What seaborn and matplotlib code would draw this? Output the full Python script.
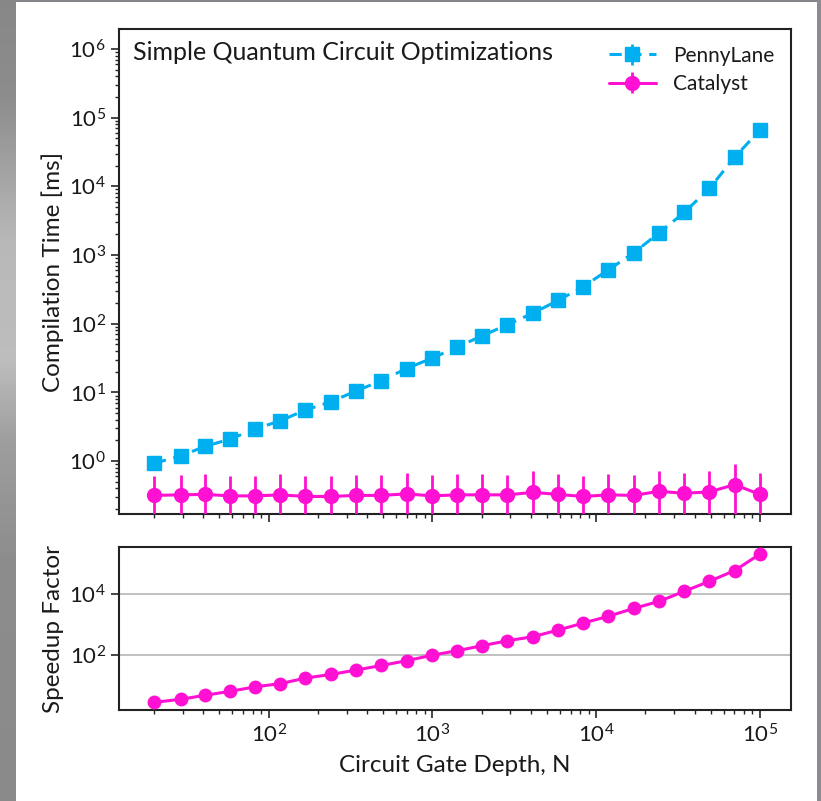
import numpy as np
import pandas as pd
import matplotlib
matplotlib.use("Agg")
import matplotlib.pyplot as plt
from matplotlib.patches import Rectangle
from matplotlib.ticker import LogLocator, NullLocator, NullFormatter
import seaborn as sns

# ---------------- data ----------------
depth = [20, 29, 41, 58, 83, 118, 168, 240, 342, 488, 696, 992, 1414, 2017,
         2876, 4101, 5848, 8340, 11893, 16960, 24185, 34488, 49181, 70133, 100000]
pennylane_ms = [0.93, 1.19, 1.64, 2.09, 2.94, 3.87, 5.55, 7.3, 10.5, 14.8, 22.3,
                31.4, 45.7, 66.7, 97, 142, 218, 346, 610, 1073, 2095, 4160,
                9300, 26500, 65700]
pennylane_err = [0.02, 0.02, 0.03, 0.03, 0.05, 0.06, 0.08, 0.1, 0.15, 0.2, 0.3,
                 0.4, 0.6, 0.8, 1.2, 1.8, 2.5, 4, 7, 12, 25, 50, 100, 300, 700]
catalyst_ms = [0.317, 0.323, 0.328, 0.312, 0.312, 0.323, 0.306, 0.306, 0.317,
               0.317, 0.334, 0.312, 0.323, 0.323, 0.323, 0.351, 0.328, 0.306,
               0.323, 0.317, 0.364, 0.340, 0.357, 0.454, 0.328]
catalyst_top = [0.608, 0.619, 0.640, 0.598, 0.598, 0.640, 0.598, 0.598, 0.629,
                0.629, 0.674, 0.619, 0.640, 0.640, 0.629, 0.710, 0.640, 0.598,
                0.640, 0.619, 0.722, 0.674, 0.710, 0.902, 0.663]

catalyst_err = [t - c for t, c in zip(catalyst_top, catalyst_ms)]
speedup = [p / c for p, c in zip(pennylane_ms, catalyst_ms)]

df = pd.DataFrame({"N": depth, "speedup": speedup})

blue = "#00aff0"
magenta = "#ff10d2"

# ---------------- style ----------------
sns.set_style("ticks")
plt.rcParams["font.family"] = ["Lato", "DejaVu Sans"]
plt.rcParams["mathtext.fontset"] = "custom"
plt.rcParams["mathtext.rm"] = "Open Sans"
plt.rcParams["mathtext.it"] = "Open Sans"
plt.rcParams["mathtext.bf"] = "Open Sans"
plt.rcParams["axes.linewidth"] = 1.5
plt.rcParams["axes.edgecolor"] = "#222222"
plt.rcParams["text.color"] = "#1a1a1a"
plt.rcParams["axes.labelcolor"] = "#1a1a1a"
plt.rcParams["xtick.labelcolor"] = "#1a1a1a"
plt.rcParams["ytick.labelcolor"] = "#1a1a1a"

fig = plt.figure(figsize=(8.21, 8.01), dpi=100, facecolor="white")

# grey photo-like border
grad_y = np.linspace(0, 1, 200)
grey_vals = np.interp(grad_y, [0.0, 0.12, 0.3, 0.45, 0.55, 0.7, 1.0],
                      [0.53, 0.55, 0.72, 0.74, 0.62, 0.55, 0.54])
bax = fig.add_axes([0, 0, 16 / 821, 1])
bax.imshow(np.repeat(grey_vals[:, None], 2, axis=1), cmap="gray", vmin=0, vmax=1,
           aspect="auto", extent=[0, 1, 0, 1], origin="upper")
bax.axis("off")
fig.patches.append(Rectangle((0, 799 / 801), 1, 2 / 801, transform=fig.transFigure,
                             facecolor="#86868a", edgecolor="none", zorder=-1))
fig.patches.append(Rectangle((817 / 821, 0), 4 / 821, 1, transform=fig.transFigure,
                             facecolor="#8c8c90", edgecolor="none", zorder=-1))

ax1 = fig.add_axes([0.1449, 0.3583, 0.8186, 0.6055])
ax2 = fig.add_axes([0.1449, 0.1136, 0.8186, 0.2029], sharex=ax1)

# ---------------- top panel ----------------
ax1.errorbar(depth, pennylane_ms, yerr=pennylane_err, color=blue, marker="s",
             markersize=10, linestyle="--", linewidth=2.2, dashes=(4, 2.5),
             elinewidth=2, label="PennyLane", zorder=3)
ax1.errorbar(depth, catalyst_ms, yerr=catalyst_err, color=magenta, marker="o",
             markersize=10, linestyle="-", linewidth=2.2, elinewidth=2,
             label="Catalyst", zorder=3)
ax1.set_xscale("log")
ax1.set_yscale("log")
ax1.set_xlim(12.2, 1.55e5)
ax1.set_ylim(0.17, 1.95e6)
ax1.yaxis.set_major_locator(LogLocator(base=10, numticks=20))
ax1.yaxis.set_minor_locator(LogLocator(base=10, subs=np.arange(2, 10), numticks=20))
ax1.yaxis.set_minor_formatter(NullFormatter())
ax1.set_ylabel("Compilation Time [ms]", fontsize=17.5)
ax1.yaxis.set_label_coords(-0.082, 0.5)
ax1.tick_params(axis="both", which="major", labelsize=16, length=6, width=1.2,
                direction="out")
ax1.tick_params(axis="both", which="minor", length=3, width=1.0, direction="out")
ax1.tick_params(axis="x", labelbottom=False)
ax1.text(0.021, 0.975, "Simple Quantum Circuit Optimizations", transform=ax1.transAxes,
         fontsize=18, va="top", ha="left")
leg = ax1.legend(loc="upper right", frameon=False, fontsize=15, handlelength=2.3,
                 borderaxespad=0.4, labelspacing=0.4)

# ---------------- bottom panel ----------------
sns.lineplot(data=df, x="N", y="speedup", ax=ax2, color=magenta, marker="o",
             markersize=10, markeredgewidth=0, linewidth=2.2, zorder=3)
ax2.set_yscale("log")
ax2.set_ylim(1.65, 3.3e5)
ax2.set_yticks([1e2, 1e4])
ax2.yaxis.set_minor_locator(NullLocator())
ax2.grid(axis="y", color="#b5b5b5", linewidth=1.2)
ax2.set_xlim(12.2, 1.55e5)
ax2.xaxis.set_major_locator(LogLocator(base=10, numticks=20))
ax2.xaxis.set_minor_locator(LogLocator(base=10, subs=np.arange(2, 10), numticks=20))
ax2.xaxis.set_minor_formatter(NullFormatter())
ax2.set_ylabel("Speedup Factor", fontsize=17.5)
ax2.yaxis.set_label_coords(-0.082, 0.5)
ax2.set_xlabel("Circuit Gate Depth, N", fontsize=17.5, labelpad=6)
ax2.tick_params(axis="both", which="major", labelsize=16, length=6, width=1.2,
                direction="out")
ax2.tick_params(axis="both", which="minor", length=3, width=1.0, direction="out")

for a in (ax1, ax2):
    for s in a.spines.values():
        s.set_visible(True)
        s.set_linewidth(1.5)

fig.savefig("out.png", dpi=100, facecolor="white")
